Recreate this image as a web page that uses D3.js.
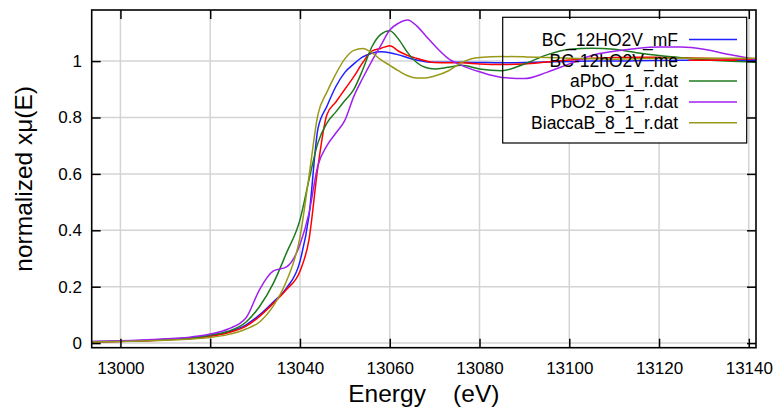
<!doctype html>
<html>
  <head>
    <script src="https://cdn.jsdelivr.net/npm/d3@7"></script>
    <style>
      body { margin: 0; background: #fff; }
      text { font-family: "Liberation Sans", Arial, sans-serif; }
    </style>
  </head>
  <body>
    <svg id="chart" width="778" height="411"></svg>

    <script>
      // energy grid (eV) that every series is read at
      var energy = [12993, 13000, 13010, 13015, 13020, 13024, 13028, 13031, 13034, 13037,
        13040, 13042, 13044, 13046, 13048, 13050, 13052, 13054, 13056, 13058,
        13060, 13062, 13064, 13066, 13068, 13070, 13073, 13076, 13080, 13085,
        13090, 13095, 13100, 13105, 13110, 13115, 13120, 13125, 13130, 13135, 13142];

      var bc12mF = [0.005, 0.007, 0.012, 0.017, 0.026, 0.04, 0.065, 0.1, 0.145, 0.195,
        0.29, 0.45, 0.76, 0.84, 0.91, 0.96, 0.99, 1.015, 1.028, 1.033,
        1.03, 1.022, 1.012, 1.004, 0.998, 0.996, 0.996, 0.996, 0.995, 0.994,
        0.995, 0.997, 0.999, 1.0, 1.0, 1.001, 1.002, 1.003, 1.003, 1.003, 1.003];

      var bc12me = [0.004, 0.006, 0.011, 0.016, 0.024, 0.037, 0.06, 0.095, 0.14, 0.19,
        0.255, 0.366, 0.625, 0.81, 0.855, 0.9, 0.945, 0.995, 1.035, 1.045,
        1.054, 1.035, 1.02, 1.01, 1.001, 0.995, 0.994, 0.994, 0.99, 0.988,
        0.99, 0.997, 1.004, 1.01, 1.013, 1.014, 1.014, 1.012, 1.01, 1.008, 1.006];

      var aPbO = [0.005, 0.007, 0.013, 0.018, 0.028, 0.042, 0.075, 0.13, 0.21, 0.32,
        0.437, 0.578, 0.71, 0.78, 0.82, 0.86, 0.9, 0.97, 1.05, 1.095,
        1.108, 1.077, 1.03, 0.995, 0.977, 0.972, 0.978, 0.985, 0.972, 0.966,
        0.99, 1.022, 1.042, 1.046, 1.042, 1.03, 1.02, 1.012, 1.005, 1.0, 0.996];

      var pbO2 = [0.006, 0.008, 0.015, 0.02, 0.032, 0.05, 0.09, 0.19, 0.255, 0.27,
        0.35, 0.46, 0.63, 0.7, 0.745, 0.79, 0.875, 0.94, 1.0, 1.055,
        1.11, 1.135, 1.146, 1.125, 1.09, 1.055, 1.01, 0.985, 0.962, 0.942,
        0.938, 0.96, 0.99, 1.02, 1.035, 1.045, 1.05, 1.05, 1.042, 1.025, 1.005];

      var biaccaB = [0.004, 0.006, 0.01, 0.014, 0.02, 0.03, 0.05, 0.075, 0.13, 0.22,
        0.375, 0.59, 0.81, 0.89, 0.955, 1.008, 1.038, 1.045, 1.03, 1.005,
        0.985, 0.965, 0.948, 0.94, 0.94, 0.947, 0.965, 0.995, 1.013, 1.016,
        1.015, 1.013, 1.01, 1.008, 1.007, 1.008, 1.01, 1.01, 1.01, 1.01, 1.01];

      var seriesNames = ["BC_12HO2V_mF", "BC-12hO2V_me", "aPbO_1_r.dat", "PbO2_8_1_r.dat", "BiaccaB_8_1_r.dat"];
      var seriesValues = [bc12mF, bc12me, aPbO, pbO2, biaccaB];
      var seriesColors = ["#1f1fff", "#ff0000", "#1e7a1e", "#a020f0", "#999919"];

      var xTicks = [13000, 13020, 13040, 13060, 13080, 13100, 13120, 13140];
      var yTicks = [0, 0.2, 0.4, 0.6, 0.8, 1];

      // plot frame (window.top is reserved, so plain names are avoided)
      var plotL = 91.7, plotR = 756, plotT = 10, plotB = 347.7;

      var x = d3.scaleLinear().domain([12993.6, 13141.6]).range([plotL, plotR]);
      var y = d3.scaleLinear().domain([-0.0163, 1.1812]).range([plotB, plotT]);

      var svg = d3.select("#chart");

      svg.append("defs").append("clipPath").attr("id", "plotclip")
        .append("rect")
          .attr("x", plotL).attr("y", plotT)
          .attr("width", plotR - plotL).attr("height", plotB - plotT);

      // grid
      var grid = svg.append("g").attr("stroke", "#d4d4d4").attr("stroke-width", 1.5);
      grid.selectAll(".gx").data(xTicks).enter().append("line")
        .attr("x1", d => x(d)).attr("x2", d => x(d))
        .attr("y1", plotT).attr("y2", plotB);
      grid.selectAll(".gy").data(yTicks).enter().append("line")
        .attr("x1", plotL).attr("x2", plotR)
        .attr("y1", d => y(d)).attr("y2", d => y(d));

      // key box background hides the grid
      var key = { x0: 502.7, y0: 17.3, x1: 746.7, y1: 143, textX: 678, s0: 689, s1: 737, row0: 39.5, step: 20.8 };
      svg.append("rect")
        .attr("x", key.x0).attr("y", key.y0)
        .attr("width", key.x1 - key.x0).attr("height", key.y1 - key.y0)
        .attr("fill", "#fff");

      // curves
      var line = d3.line()
        .x((d, i) => x(energy[i]))
        .y(d => y(d))
        .curve(d3.curveMonotoneX);

      svg.append("g").attr("clip-path", "url(#plotclip)")
        .selectAll("path")
        .data(seriesValues)
        .enter()
        .append("path")
          .attr("fill", "none")
          .attr("stroke", (d, i) => seriesColors[i])
          .attr("stroke-width", 1.5)
          .attr("d", line);

      // key entries
      var entries = svg.append("g").selectAll("g")
        .data(seriesNames)
        .enter()
        .append("g")
          .attr("transform", (d, i) => "translate(0," + (key.row0 + i * key.step) + ")");
      entries.append("text")
        .attr("x", key.textX).attr("dy", "0.36em")
        .attr("text-anchor", "end")
        .attr("font-size", 17.5)
        .text(d => d);
      entries.append("line")
        .attr("x1", key.s0).attr("x2", key.s1)
        .attr("stroke", (d, i) => seriesColors[i])
        .attr("stroke-width", 1.5);
      svg.append("rect")
        .attr("x", key.x0).attr("y", key.y0)
        .attr("width", key.x1 - key.x0).attr("height", key.y1 - key.y0)
        .attr("fill", "none").attr("stroke", "#000").attr("stroke-width", 1.2);

      // axes, ticks drawn inward and mirrored
      var fmt = d3.format("~g");
      var axB = svg.append("g").attr("transform", "translate(0," + plotB + ")")
        .call(d3.axisBottom(x).tickValues(xTicks).tickSize(-9).tickPadding(14.3).tickFormat(fmt));
      var axL = svg.append("g").attr("transform", "translate(" + plotL + ",0)")
        .call(d3.axisLeft(y).tickValues(yTicks).tickSize(-9).tickPadding(9.7).tickFormat(fmt));
      var axT = svg.append("g").attr("transform", "translate(0," + plotT + ")")
        .call(d3.axisTop(x).tickValues(xTicks).tickSize(-9).tickFormat(""));
      var axR = svg.append("g").attr("transform", "translate(" + plotR + ",0)")
        .call(d3.axisRight(y).tickValues(yTicks).tickSize(-9).tickFormat(""));

      [axB, axL, axT, axR].forEach(function(a) {
        a.select(".domain").remove();
        a.selectAll(".tick line").attr("stroke", "#000").attr("stroke-width", 1.5);
        a.selectAll(".tick text")
          .attr("fill", "#000")
          .attr("font-size", 17)
          .attr("font-family", "'Liberation Sans', Arial, sans-serif");
      });

      svg.append("rect")
        .attr("x", plotL).attr("y", plotT)
        .attr("width", plotR - plotL).attr("height", plotB - plotT)
        .attr("fill", "none").attr("stroke", "#000").attr("stroke-width", 1.6);

      // axis titles
      svg.append("text")
        .attr("x", (plotL + plotR) / 2).attr("y", 402)
        .attr("text-anchor", "middle")
        .attr("font-size", 24.5)
        .style("white-space", "pre")
        .text("Energy    (eV)");

      svg.append("text")
        .attr("transform", "translate(32," + ((plotT + plotB) / 2) + ") rotate(-90)")
        .attr("text-anchor", "middle")
        .attr("font-size", 24.5)
        .text("normalized xμ(E)");
    </script>
  </body>
</html>
